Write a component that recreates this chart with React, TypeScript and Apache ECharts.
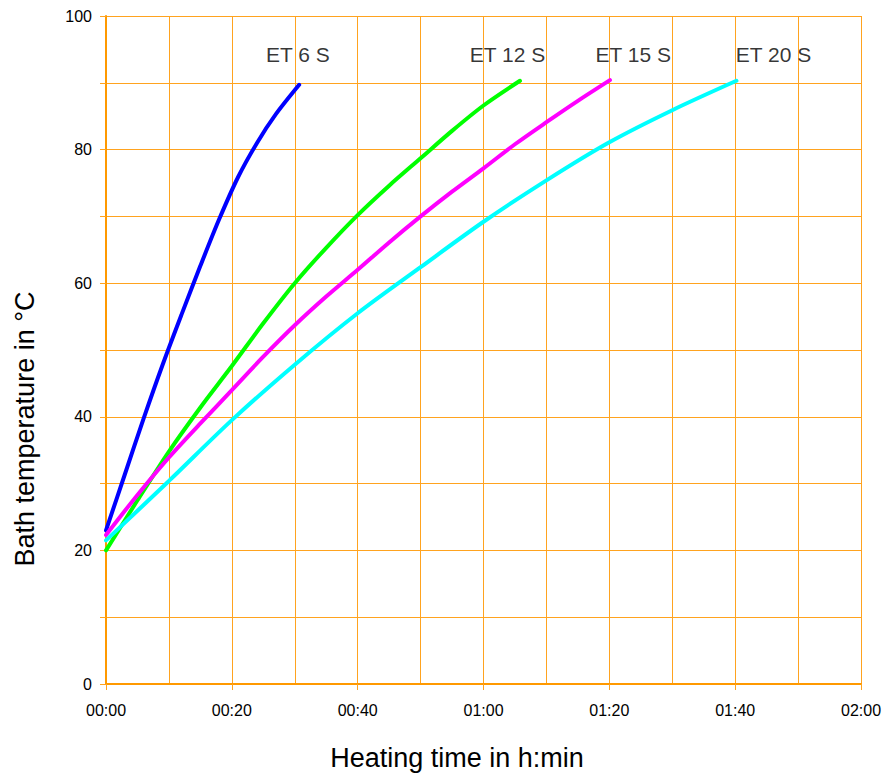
import React, { useEffect, useRef } from "react";
import * as echarts from "echarts";

// Heating time in minutes, bath temperature in °C
const et6: [number, number][] = [
  [0, 23], [3, 31.4], [6, 39.8], [9, 47.8], [12, 55.3], [15, 62.6], [18, 69.6],
  [21, 75.9], [24, 81], [27, 85.3], [30.7, 89.7],
];
const et12: [number, number][] = [
  [0, 20], [5, 27.5], [10, 34.8], [15, 41.4], [20, 47.6], [25, 54], [30, 60],
  [35, 65.3], [40, 70.2], [45, 74.6], [50, 78.7], [55, 82.8], [60, 86.6], [65.8, 90.3],
];
const et15: [number, number][] = [
  [0, 22.3], [5, 28.3], [10, 33.9], [15, 39], [20, 44], [25, 49], [30, 53.7],
  [35, 58], [40, 62], [45, 66.1], [50, 70], [55, 73.7], [60, 77.2], [65, 80.8],
  [70, 84.1], [75, 87.3], [80.1, 90.4],
];
const et20: [number, number][] = [
  [0, 21.5], [10, 30.4], [20, 39.5], [30, 47.8], [40, 55.5], [50, 62.4], [60, 69.2],
  [70, 75.4], [80, 81.1], [90, 85.9], [100.2, 90.3],
];

const seriesNames = ["ET 6 S", "ET 12 S", "ET 15 S", "ET 20 S"];
const seriesColors = ["#0000FF", "#00FF00", "#FF00FF", "#00FFFF"];

const labelText = ["ET 6 S", "ET 12 S", "ET 15 S", "ET 20 S"];
const labelX = [30.5, 63.8, 83.8, 106.1];
const labelY = [94.2, 94.2, 94.2, 94.2];

const FONT = "'Liberation Sans', Arial, sans-serif";
const GRID_COLOR = "#FFA31F";
const AXIS_COLOR = "#FF9900";

function fmtTime(v: number): string {
  const h = Math.floor(v / 60);
  const m = Math.round(v % 60);
  return `${String(h).padStart(2, "0")}:${String(m).padStart(2, "0")}`;
}

export default function App() {
  const ref = useRef<HTMLDivElement>(null);
  useEffect(() => {
    if (!ref.current) return;
    const chart = echarts.init(ref.current, undefined, { renderer: "svg" });
    const datasets = [et6, et12, et15, et20];
    chart.setOption({
      animation: false,
      backgroundColor: "#FFFFFF",
      grid: {
        left: 106,
        right: 25,
        top: 16,
        bottom: 89,
        containLabel: false,
        outerBoundsMode: "none",
      },
      xAxis: {
        type: "value",
        min: 0,
        max: 120,
        interval: 20,
        name: "Heating time in h:min",
        nameLocation: "middle",
        nameGap: 60,
        nameTextStyle: { fontFamily: FONT, fontSize: 27, color: "#000", padding: [0, 53, 0, 0] },
        axisLine: { show: true, onZero: false, lineStyle: { color: AXIS_COLOR, width: 2 } },
        axisTick: { show: true, length: 6, lineStyle: { color: GRID_COLOR, width: 1 } },
        axisLabel: {
          formatter: (v: number) => fmtTime(v),
          fontFamily: FONT,
          fontSize: 16,
          color: "#000",
          margin: 18,
        },
        splitLine: { show: true, lineStyle: { color: GRID_COLOR, width: 1 } },
        minorTick: { show: false, splitNumber: 2 },
        minorSplitLine: { show: true, lineStyle: { color: GRID_COLOR, width: 1 } },
      },
      yAxis: {
        type: "value",
        min: 0,
        max: 100,
        interval: 20,
        name: "Bath temperature in °C",
        nameLocation: "middle",
        nameGap: 68,
        nameTextStyle: { fontFamily: FONT, fontSize: 27, color: "#000", padding: [0, 158, 0, 0] },
        axisLine: { show: true, onZero: false, lineStyle: { color: AXIS_COLOR, width: 2 } },
        axisTick: { show: true, length: 6, lineStyle: { color: GRID_COLOR, width: 1 } },
        axisLabel: { fontFamily: FONT, fontSize: 16, color: "#000", margin: 14 },
        splitLine: { show: true, lineStyle: { color: GRID_COLOR, width: 1 } },
        minorTick: { show: true, splitNumber: 2, length: 6, lineStyle: { color: GRID_COLOR, width: 1 } },
        minorSplitLine: { show: true, lineStyle: { color: GRID_COLOR, width: 1 } },
      },
      series: [
        ...datasets.map((d, i) => ({
          type: "line",
          name: seriesNames[i],
          data: d,
          smooth: 0.3,
          showSymbol: false,
          symbol: "none",
          lineStyle: { color: seriesColors[i], width: 4, cap: "round" },
          z: 3 + i,
        })),
        {
          type: "scatter",
          name: "labels",
          symbolSize: 0,
          data: labelText.map((t, i) => [labelX[i], labelY[i], t]),
          label: {
            show: true,
            position: "inside",
            formatter: (p: any) => p.value[2],
            fontFamily: FONT,
            fontSize: 21,
            color: "#000",
          },
          z: 10,
        },
      ],
    });
    return () => chart.dispose();
  }, []);
  return (
    <div
      ref={ref}
      style={{ position: "fixed", left: 0, top: 0, width: 886, height: 773, background: "#fff" }}
    />
  );
}
